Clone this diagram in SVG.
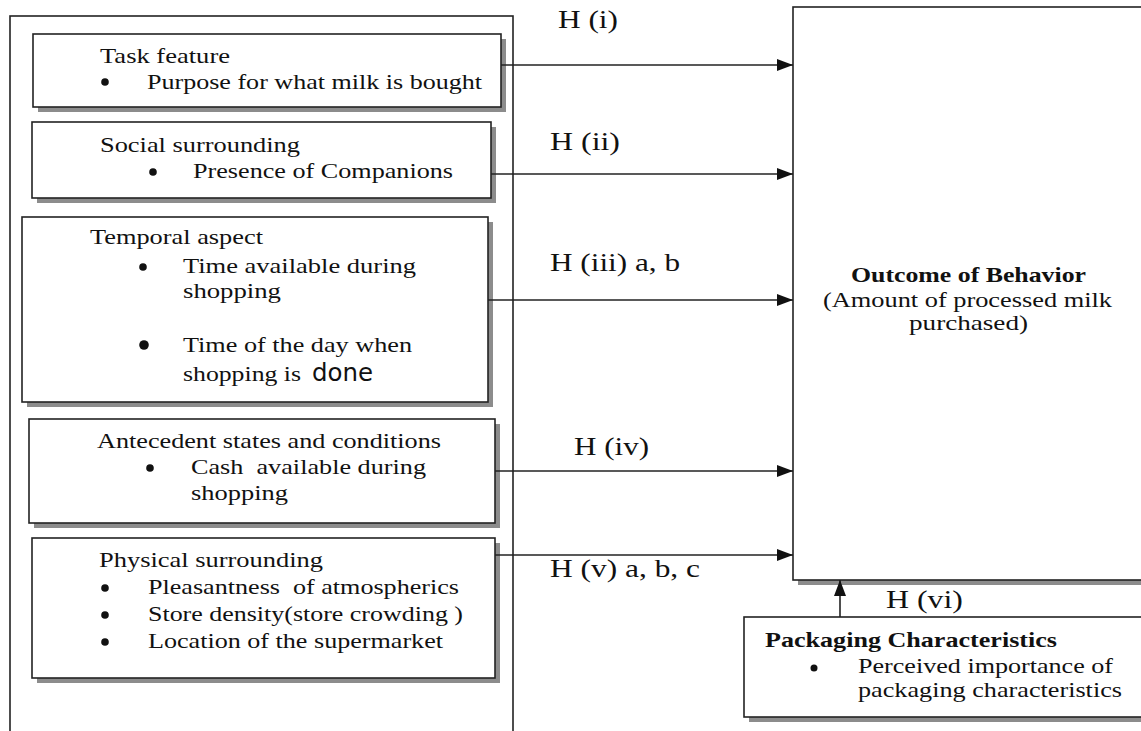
<svg xmlns="http://www.w3.org/2000/svg" width="1141" height="731" viewBox="0 0 1141 731">
<style>
.box{fill:#fff;stroke:#222;stroke-width:1.6}
.sh{fill:#8c8c8c}
.t{font-family:"Liberation Serif","Times New Roman",serif;font-size:22px;fill:#111}
.lbl{font-family:"Liberation Serif","Times New Roman",serif;font-size:26px;fill:#111}
.ot{font-family:"Liberation Serif","Times New Roman",serif;font-size:21px;fill:#111}
.b{font-weight:bold}
.dot{fill:#111}
.conn{stroke:#222;stroke-width:1.6;fill:none}
</style>
<defs>
<marker id="ah" markerUnits="userSpaceOnUse" markerWidth="16" markerHeight="12" refX="16" refY="6" orient="auto">
<path d="M0,0 L16,6 L0,12 z" fill="#111"/>
</marker>
</defs>
<rect width="1141" height="731" fill="#fff"/>

<g id="outer-frame">
<rect x="10" y="16" width="503" height="730" fill="none" stroke="#222" stroke-width="1.6"/>
</g>

<g id="task-feature">
<rect class="sh" x="38" y="39" width="468" height="73"/>
<rect class="box" x="33" y="34" width="468" height="73"/>
<text class="t" x="100" y="63" textLength="130" lengthAdjust="spacingAndGlyphs">Task feature</text>
<circle class="dot" cx="105" cy="82" r="3.8"/>
<text class="t" x="147" y="89" textLength="335" lengthAdjust="spacingAndGlyphs">Purpose for what milk is bought</text>
</g>

<g id="social-surrounding">
<rect class="sh" x="37" y="127" width="459" height="76"/>
<rect class="box" x="32" y="122" width="459" height="76"/>
<text class="t" x="100" y="152" textLength="200" lengthAdjust="spacingAndGlyphs">Social surrounding</text>
<circle class="dot" cx="153" cy="172" r="3.8"/>
<text class="t" x="193" y="178" textLength="260" lengthAdjust="spacingAndGlyphs">Presence of Companions</text>
</g>

<g id="temporal-aspect">
<rect class="sh" x="27" y="222" width="466" height="185"/>
<rect class="box" x="22" y="217" width="466" height="185"/>
<text class="t" x="90" y="244" textLength="173" lengthAdjust="spacingAndGlyphs">Temporal aspect</text>
<circle class="dot" cx="143" cy="267" r="3.8"/>
<text class="t" x="183" y="273" textLength="233" lengthAdjust="spacingAndGlyphs">Time available during</text>
<text class="t" x="183" y="298" textLength="98" lengthAdjust="spacingAndGlyphs">shopping</text>
<circle class="dot" cx="144" cy="345" r="4.8"/>
<text class="t" x="183" y="352" textLength="229" lengthAdjust="spacingAndGlyphs">Time of the day when</text>
<text class="t" x="183" y="381" textLength="118" lengthAdjust="spacingAndGlyphs">shopping is</text>
<text x="312" y="381" font-family="DejaVu Sans,Verdana,sans-serif" font-size="25" fill="#111" textLength="61" lengthAdjust="spacingAndGlyphs">done</text>
</g>

<g id="antecedent-states">
<rect class="sh" x="34" y="424" width="466" height="104"/>
<rect class="box" x="29" y="419" width="466" height="104"/>
<text class="t" x="97" y="448" textLength="344" lengthAdjust="spacingAndGlyphs">Antecedent states and conditions</text>
<circle class="dot" cx="150" cy="468" r="3.8"/>
<text class="t" x="191" y="474" textLength="235" lengthAdjust="spacingAndGlyphs" xml:space="preserve">Cash  available during</text>
<text class="t" x="191" y="500" textLength="97" lengthAdjust="spacingAndGlyphs">shopping</text>
</g>

<g id="physical-surrounding">
<rect class="sh" x="37" y="543" width="463" height="140"/>
<rect class="box" x="32" y="538" width="463" height="140"/>
<text class="t" x="99" y="567" textLength="224" lengthAdjust="spacingAndGlyphs">Physical surrounding</text>
<circle class="dot" cx="105" cy="588" r="3.8"/>
<text class="t" x="148" y="594" textLength="311" lengthAdjust="spacingAndGlyphs" xml:space="preserve">Pleasantness  of atmospherics</text>
<circle class="dot" cx="105" cy="615" r="3.8"/>
<text class="t" x="148" y="621" textLength="315" lengthAdjust="spacingAndGlyphs">Store density(store crowding )</text>
<circle class="dot" cx="105" cy="642" r="3.8"/>
<text class="t" x="148" y="648" textLength="295" lengthAdjust="spacingAndGlyphs">Location of the supermarket</text>
</g>

<g id="outcome-of-behavior">
<rect class="sh" x="798" y="12" width="360" height="573"/>
<rect class="box" x="793" y="7" width="360" height="573"/>
<text class="ot b" x="851" y="282" textLength="235" lengthAdjust="spacingAndGlyphs">Outcome of Behavior</text>
<text class="ot" x="823" y="307" textLength="289" lengthAdjust="spacingAndGlyphs">(Amount of processed milk</text>
<text class="ot" x="909" y="330" textLength="119" lengthAdjust="spacingAndGlyphs">purchased)</text>
</g>

<g id="packaging-characteristics">
<rect class="sh" x="749" y="622" width="410" height="100"/>
<rect class="box" x="744" y="617" width="410" height="100"/>
<text class="ot b" x="765" y="647" textLength="292" lengthAdjust="spacingAndGlyphs">Packaging Characteristics</text>
<circle class="dot" cx="814" cy="668" r="3.5"/>
<text class="ot" x="858" y="673" textLength="255" lengthAdjust="spacingAndGlyphs">Perceived importance of</text>
<text class="ot" x="858" y="697" textLength="264" lengthAdjust="spacingAndGlyphs">packaging characteristics</text>
</g>

<g id="connectors">
<line class="conn" x1="501" y1="65" x2="793" y2="65" marker-end="url(#ah)"/>
<line class="conn" x1="491" y1="174" x2="793" y2="174" marker-end="url(#ah)"/>
<line class="conn" x1="488" y1="300" x2="793" y2="300" marker-end="url(#ah)"/>
<line class="conn" x1="495" y1="471" x2="793" y2="471" marker-end="url(#ah)"/>
<line class="conn" x1="495" y1="555" x2="793" y2="555" marker-end="url(#ah)"/>
<line class="conn" x1="840" y1="617" x2="840" y2="580" marker-end="url(#ah)"/>
<text class="lbl" x="558" y="28" textLength="60" lengthAdjust="spacingAndGlyphs">H (i)</text>
<text class="lbl" x="550" y="150" textLength="70" lengthAdjust="spacingAndGlyphs">H (ii)</text>
<text class="lbl" x="550" y="271" textLength="130" lengthAdjust="spacingAndGlyphs">H (iii) a, b</text>
<text class="lbl" x="574" y="455" textLength="75" lengthAdjust="spacingAndGlyphs">H (iv)</text>
<text class="lbl" x="550" y="577" textLength="150" lengthAdjust="spacingAndGlyphs">H (v) a, b, c</text>
<text class="lbl" x="886" y="608" textLength="77" lengthAdjust="spacingAndGlyphs">H (vi)</text>
</g>
</svg>
